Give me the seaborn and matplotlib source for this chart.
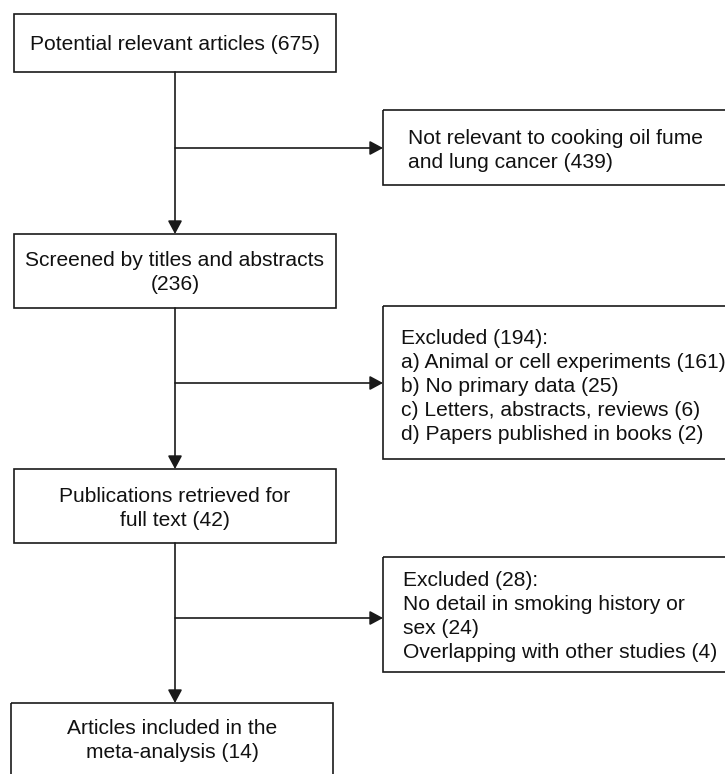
import matplotlib
matplotlib.use("Agg")
import matplotlib.pyplot as plt
import seaborn as sns
from matplotlib.patches import Rectangle

# ---- data (texts of the flow diagram) ----
main_labels = [
    ["Potential relevant articles (675)"],
    ["Screened by titles and abstracts", "(236)"],
    ["Publications retrieved for", "full text (42)"],
    ["Articles included in the", "meta-analysis (14)"],
]
side_labels = [
    ["Not relevant to cooking oil fume", "and lung cancer (439)"],
    ["Excluded (194):", "a) Animal or cell experiments (161)", "b) No primary data (25)",
     "c) Letters, abstracts, reviews (6)", "d) Papers published in books (2)"],
    ["Excluded (28):", "No detail in smoking history or", "sex (24)",
     "Overlapping with other studies (4)"],
]

sns.set_theme(style="white")
plt.rcParams['font.family'] = ['Liberation Sans', 'DejaVu Sans']

W, H = 725, 774
fig = plt.figure(figsize=(W / 100, H / 100), dpi=100)
ax = fig.add_axes([0, 0, 1, 1])
ax.set_xlim(0, W)
ax.set_ylim(H, 0)
ax.axis("off")

LW = 1.2
EC = "#1a1a1a"
TC = "#111111"
FS = 15.1
STEP = 24.0

# layout
main_boxes = [(14, 14, 336, 72), (14, 234, 336, 308), (14, 469, 336, 543), (11, 703, 333, 820)]
main_centers = [43, 271, 506, 738]
side_boxes = [(383, 110, 760, 185), (383, 306, 760, 459), (383, 557, 760, 672)]
side_centers = [148, 384, 614]
side_text_x = [408, 401, 403]
branch_y = [148, 383, 618]
xc = 175


def draw_lines(lines, x, yc, ha):
    n = len(lines)
    for i, t in enumerate(lines):
        y = yc + (i - (n - 1) / 2) * STEP
        ax.text(x, y + 7.5, t, ha=ha, va="baseline", fontsize=FS, color=TC)


for (x0, y0, x1, y1), lab, yc in zip(main_boxes, main_labels, main_centers):
    ax.add_patch(Rectangle((x0, y0), x1 - x0, y1 - y0, fill=False, ec=EC, lw=LW, zorder=2))
    draw_lines(lab, (x0 + x1) / 2, yc, "center")

for (x0, y0, x1, y1), lab, yc, tx in zip(side_boxes, side_labels, side_centers, side_text_x):
    ax.add_patch(Rectangle((x0, y0), x1 - x0, y1 - y0, fill=False, ec=EC, lw=LW, zorder=2,
                           clip_on=False))
    draw_lines(lab, tx, yc, "left")

arrow_kw = dict(arrowstyle="-|>,head_length=0.8,head_width=0.43", mutation_scale=10,
                color=EC, lw=LW, shrinkA=0, shrinkB=0)

# vertical arrows between main boxes
for i in range(3):
    y_from = main_boxes[i][3]
    y_to = main_boxes[i + 1][1]
    ax.annotate("", xy=(xc, y_to), xytext=(xc, y_from), arrowprops=arrow_kw)

# horizontal branch arrows
for by, sb in zip(branch_y, side_boxes):
    ax.annotate("", xy=(sb[0], by), xytext=(xc, by), arrowprops=arrow_kw)

fig.savefig("out.png", dpi=100, facecolor="white")
